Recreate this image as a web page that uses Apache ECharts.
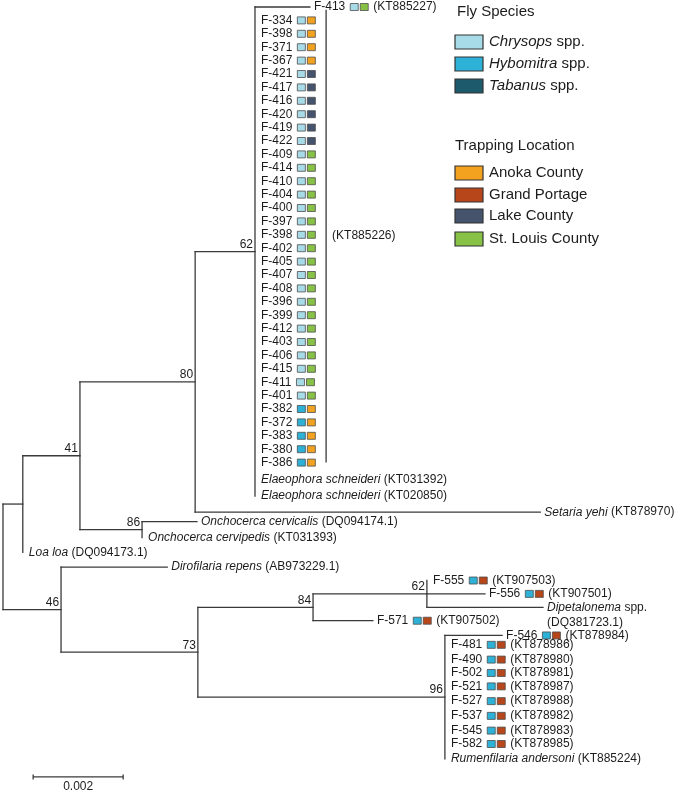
<!DOCTYPE html>
<html><head><meta charset="utf-8">
<script src="https://cdn.jsdelivr.net/npm/echarts@6/dist/echarts.min.js"></script>
<style>html,body{margin:0;padding:0;background:#fff}#c{width:685px;height:793px}</style>
</head><body><div id="c"></div>
<script>
// ---------- DATA ----------
// Internal nodes of the tree (branch lengths in substitutions/site)
const internalNames   = ['root','nA','n41','n80','n62','n86','n46','n73','n84','n62b','n96'];
const internalParents = [null,'root','nA','n41','n80','n41','root','n46','n73','n84','n73'];
const internalLengths = [0,0.00044,0.00127,0.00256,0.00133,0.00138,0.00129,0.00304,0.00256,0.00253,0.00549];
const internalSupport = [null,null,41,80,62,86,46,73,84,62,96];

// Tips
const tipNames = ['F-413','F-334','F-398','F-371','F-367','F-421','F-417','F-416','F-420','F-419','F-422',
  'F-409','F-414','F-410','F-404','F-400','F-397','F-398','F-402','F-405','F-407','F-408','F-396','F-399',
  'F-412','F-403','F-406','F-415','F-411','F-401','F-382','F-372','F-383','F-380','F-386',
  'Elaeophora schneideri','Elaeophora schneideri','Setaria yehi','Onchocerca cervicalis','Onchocerca cervipedis',
  'Loa loa','Dirofilaria repens','F-555','F-556','Dipetalonema spp.','F-571','F-546',
  'F-481','F-490','F-502','F-521','F-527','F-537','F-545','F-582','Rumenfilaria andersoni'];
const tipParents = ['n62','n62','n62','n62','n62','n62','n62','n62','n62','n62','n62',
  'n62','n62','n62','n62','n62','n62','n62','n62','n62','n62','n62','n62','n62',
  'n62','n62','n62','n62','n62','n62','n62','n62','n62','n62','n62',
  'n62','n62','n80','n86','n86',
  'nA','n46','n62b','n62b','n62b','n84','n96',
  'n96','n96','n96','n96','n96','n96','n96','n96','n96'];
const tipLengths = [0.00122,0,0,0,0,0,0,0,0,0,0,
  0,0,0,0,0,0,0,0,0,0,0,0,0,
  0,0,0,0,0,0,0,0,0,0,0,
  0,0,0.00767,0.00122,0,
  0,0.00236,0,0.00129,0.00258,0.00133,0.00127,
  0,0,0,0,0,0,0,0,0];
// vertical position of each tip (row units)
const tipRows = [0,1,2,3,4,5,6,7,8,9,10,
  11,12,13,14,15,16,17,18,19,20,21,22,23,
  24,25,26,27,28,29,30,31,32,33,34,
  35.3,36.5,37.7,38.4,39.6,
  40.7,41.8,42.8,43.8,44.8,45.8,46.9,
  47.6,48.7,49.7,50.7,51.8,52.9,54.0,55.0,56.1];
// Fly species: C = Chrysops, H = Hybomitra, T = Tabanus
const tipSpecies = ['C','C','C','C','C','C','C','C','C','C','C',
  'C','C','C','C','C','C','C','C','C','C','C','C','C',
  'C','C','C','C','C','C','H','H','H','H','H',
  null,null,null,null,null,
  null,null,'H','H',null,'H','H',
  'H','H','H','H','H','H','H','H',null];
// Trapping location: A = Anoka, G = Grand Portage, L = Lake, S = St. Louis
const tipLocation = ['S','A','A','A','A','L','L','L','L','L','L',
  'S','S','S','S','S','S','S','S','S','S','S','S','S',
  'S','S','S','S','S','S','A','A','A','A','A',
  null,null,null,null,null,
  null,null,'G','G',null,'G','G',
  'G','G','G','G','G','G','G','G',null];
const tipAccession = ['KT885227','','','','','','','','','','',
  '','','','','','','','','','','','','',
  '','','','','','','','','','','',
  'KT031392','KT020850','KT878970','DQ094174.1','KT031393',
  'DQ094173.1','AB973229.1','KT907503','KT907501','DQ381723.1','KT907502','KT878984',
  'KT878986','KT878980','KT878981','KT878987','KT878988','KT878982','KT878983','KT878985','KT885224'];

// Shared accession bracket for the large clade
const bracketLabel = 'KT885226';
const bracketRows = [0.2, 34];
const bracketX = 0.00718;

// Scale bar
const scaleLength = 0.002;
const scaleStart = 0.00067;
const scaleRow = 57.46;

// Legend
const speciesLabels = [['Chrysops',' spp.'],['Hybomitra',' spp.'],['Tabanus',' spp.']];
const locationLabels = ['Anoka County','Grand Portage','Lake County','St. Louis County'];

// ---------- STYLE ----------
const FF = '"Liberation Sans", Arial, sans-serif';
const speciesColor = {C:'#a8dbe8', H:'#2db1d6', T:'#1d5b6c'};
const locColor = {A:'#f2a21f', G:'#b8461b', L:'#45536d', S:'#87c146'};
const LINE = '#3a3a3a';
const TXT = '#1c1c1c';

// ---------- BUILD TREE ----------
const nodes = {};
internalNames.forEach((n,i)=>{nodes[n]={parent:internalParents[i],len:internalLengths[i],support:internalSupport[i],children:[],tip:false};});
tipNames.forEach((n,i)=>{nodes['t'+i]={parent:tipParents[i],len:tipLengths[i],row:tipRows[i],children:[],tip:true,idx:i};});
Object.keys(nodes).forEach(id=>{const p=nodes[id].parent; if(p) nodes[p].children.push(id);});
function xOf(id){const n=nodes[id]; if(n.x!==undefined) return n.x; n.x = n.parent ? xOf(n.parent)+n.len : 0; return n.x;}
function yOf(id){const n=nodes[id]; if(n.y!==undefined) return n.y;
  if(n.tip){n.y=n.row;} else {const ys=n.children.map(yOf); n.minY=Math.min(...ys); n.maxY=Math.max(...ys); n.y=(n.minY+n.maxY)/2;}
  return n.y;}
const segs=[];
Object.keys(nodes).forEach(id=>{const n=nodes[id]; const x=xOf(id), y=yOf(id);
  if(n.parent && n.len>0) segs.push([xOf(n.parent), y, x, y]);
  if(!n.tip) segs.push([x, n.minY, x, n.maxY]);
});
const tipData = tipNames.map((n,i)=>[xOf('t'+i), yOf('t'+i), i]);
const supportData = internalNames.map((n,i)=>[xOf(n), yOf(n), internalSupport[i]]).filter(d=>d[2]!==null);

// ---------- HELPERS ----------
const mctx = document.createElement('canvas').getContext('2d');
function tw(s, italic, size){mctx.font=(italic?'italic ':'')+size+'px "Liberation Sans"'; return mctx.measureText(s).width;}
function txt(s,x,y,opt){return {type:'text', x:x, y:y, style:Object.assign({text:s,fill:TXT,fontSize:12,fontFamily:FF,align:'left',verticalAlign:'middle'},opt||{})};}
function box(x,y,c){return {type:'rect', shape:{x:x,y:y-3.5,width:8,height:7}, style:{fill:c,stroke:'#4d4d4d',lineWidth:0.8}};}

// ---------- LEGEND (graphic) ----------
const graphic=[];
graphic.push({type:'text', left:457, top:4, style:{text:'Fly Species',fontSize:15,fontFamily:FF,fill:TXT}});
const spKeys=['C','H','T'], spBoxY=[35,57,79];
spKeys.forEach((k,i)=>{
  graphic.push({type:'rect', shape:{x:455,y:spBoxY[i],width:28,height:14}, style:{fill:speciesColor[k],stroke:'#333',lineWidth:1.2}});
  graphic.push({type:'text', x:489, y:spBoxY[i]+7, style:{text:'{i|'+speciesLabels[i][0]+'}'+speciesLabels[i][1],fontSize:15,fontFamily:FF,fill:TXT,verticalAlign:'middle',
    rich:{i:{fontStyle:'italic',fontSize:15,fontFamily:FF,fill:TXT}}}});
});
graphic.push({type:'text', left:455, top:138, style:{text:'Trapping Location',fontSize:15,fontFamily:FF,fill:TXT}});
const locKeys=['A','G','L','S'], locBoxY=[166,188,209,232];
locKeys.forEach((k,i)=>{
  graphic.push({type:'rect', shape:{x:455,y:locBoxY[i],width:28,height:14}, style:{fill:locColor[k],stroke:'#333',lineWidth:1.2}});
  graphic.push({type:'text', x:489, y:locBoxY[i]+7, style:{text:locationLabels[i],fontSize:15,fontFamily:FF,fill:TXT,verticalAlign:'middle'}});
});

// ---------- CHART ----------
const chart = echarts.init(document.getElementById('c'));
chart.setOption({
  animation:false,
  backgroundColor:'#fff',
  grid:{left:3, top:7, width:675, height:777.2},
  xAxis:{type:'value', min:0, max:0.015, show:false},
  yAxis:{type:'value', min:0, max:58, inverse:true, show:false},
  graphic:graphic,
  series:[
    {type:'custom', name:'branches', data:segs, clip:false, silent:true,
     renderItem:function(params, api){
       const a=api.coord([api.value(0),api.value(1)]), b=api.coord([api.value(2),api.value(3)]);
       return {type:'line', shape:{x1:a[0],y1:a[1],x2:b[0],y2:b[1]}, style:{stroke:LINE,lineWidth:1.3,lineCap:'square'}};
     }},
    {type:'custom', name:'tips', data:tipData, clip:false, silent:true,
     renderItem:function(params, api){
       const i=api.value(2);
       const p=api.coord([api.value(0),api.value(1)]);
       const off = tipLengths[i]>0 ? 4 : 6;
       let x=p[0]+off; const y=p[1];
       const kids=[]; const name=tipNames[i];
       if(tipSpecies[i]){
         kids.push(txt(name,x,y));
         x+=tw(name,false,12)+5;
         kids.push(box(x,y,speciesColor[tipSpecies[i]])); x+=10;
         kids.push(box(x,y,locColor[tipLocation[i]])); x+=8+5;
         if(tipAccession[i]) kids.push(txt('('+tipAccession[i]+')',x,y));
       } else if(/ spp\.$/.test(name)){
         const genus=name.replace(/ spp\.$/,'');
         kids.push(txt('{i|'+genus+'} spp.\n('+tipAccession[i]+')',x,y-7.5,{verticalAlign:'top',lineHeight:15,
           rich:{i:{fontStyle:'italic',fontSize:12,fontFamily:FF,fill:TXT,lineHeight:15}}}));
       } else {
         kids.push(txt('{i|'+name+'} ('+tipAccession[i]+')',x,y,{rich:{i:{fontStyle:'italic',fontSize:12,fontFamily:FF,fill:TXT}}}));
       }
       return {type:'group', children:kids};
     }},
    {type:'custom', name:'support', data:supportData, clip:false, silent:true,
     renderItem:function(params, api){
       const p=api.coord([api.value(0),api.value(1)]);
       return txt(String(api.value(2)), p[0]-2, p[1]-1, {align:'right',verticalAlign:'bottom'});
     }},
    {type:'custom', name:'bracket', data:[[bracketX, bracketRows[0], bracketRows[1]]], clip:false, silent:true,
     renderItem:function(params, api){
       const a=api.coord([api.value(0),api.value(1)]), b=api.coord([api.value(0),api.value(2)]);
       return {type:'group', children:[
         {type:'line', shape:{x1:a[0],y1:a[1],x2:b[0],y2:b[1]}, style:{stroke:LINE,lineWidth:1.3}},
         txt('('+bracketLabel+')', a[0]+6, (a[1]+b[1])/2)
       ]};
     }},
    {type:'custom', name:'scale', data:[[scaleStart, scaleRow, scaleStart+scaleLength]], clip:false, silent:true,
     renderItem:function(params, api){
       const a=api.coord([api.value(0),api.value(1)]), b=api.coord([api.value(2),api.value(1)]);
       return {type:'group', children:[
         {type:'line', shape:{x1:a[0],y1:a[1],x2:b[0],y2:b[1]}, style:{stroke:LINE,lineWidth:1.3}},
         {type:'line', shape:{x1:a[0],y1:a[1]-2.5,x2:a[0],y2:a[1]+2.5}, style:{stroke:LINE,lineWidth:1.3}},
         {type:'line', shape:{x1:b[0],y1:b[1]-2.5,x2:b[0],y2:b[1]+2.5}, style:{stroke:LINE,lineWidth:1.3}},
         txt(String(scaleLength), (a[0]+b[0])/2, a[1]+10, {align:'center'})
       ]};
     }}
  ]
});
</script></body></html>
